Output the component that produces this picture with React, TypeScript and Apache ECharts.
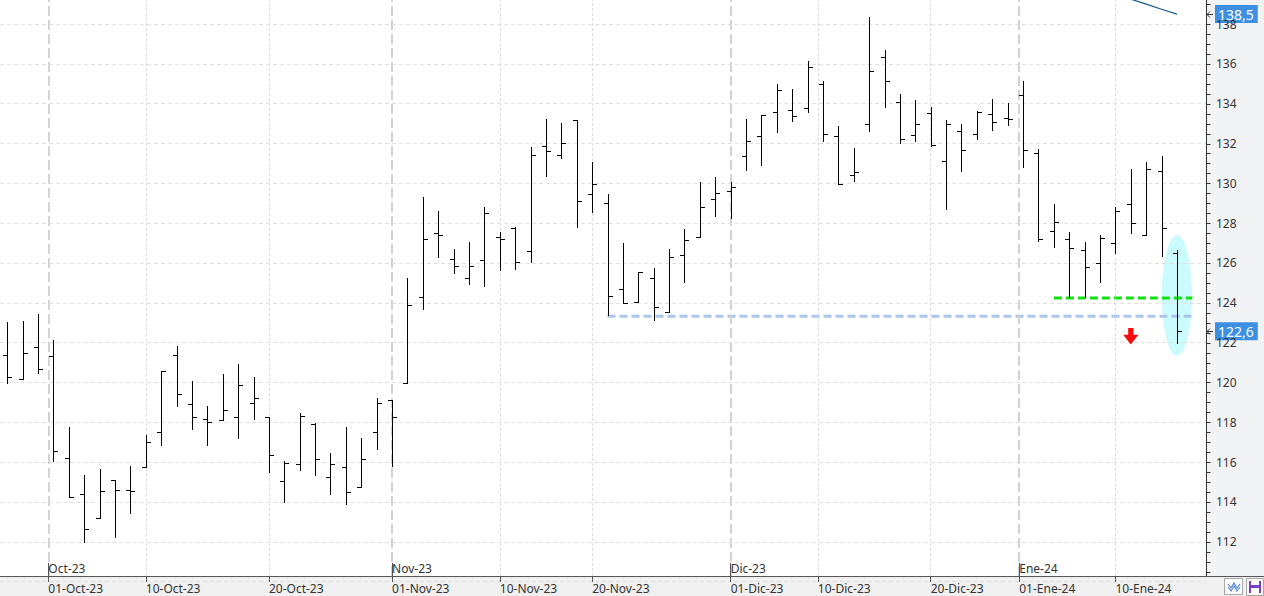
import React, { useEffect, useRef } from "react";
import * as echarts from "echarts";

// Trading-day index 0 = 27-Sep-23 ... 76 = 16-Jan-24
const opens = [
  121.36, 120.19, 121.77, 121.33, 116.19, 114.4, 113.18, 115.09, 114.59, 115.77,
  117.5, 121.36, 118.9, 118.15, 118.1, 118.25, 118.95, 118.25, 115.04, 115.89,
  117.9, 115.24, 115.74, 114.74, 117.5, 119.11, 119.96, 124.28, 127.49, 126.19,
  125.23, 126.14, 127.29, 127.74, 126.59, 131.86, 131.41, 133.16, 129.45, 129.0,
  124.71, 124.06, 125.23, 123.52, 126.39, 127.32, 129.2, 129.6, 131.37, 132.36,
  133.57, 133.67, 133.77, 134.97, 132.36, 130.4, 132.96, 136.33, 134.07, 132.41,
  133.52, 131.12, 132.61, 132.46, 133.47, 133.28, 134.42, 131.51, 127.59, 127.19,
  126.64, 125.98, 126.99, 128.95, 127.39, 130.6, 126.49,
];
const highs = [
  123.02, 123.09, 123.42, 122.13, 117.76, 115.35, 115.64, 115.09, 115.81, 117.36,
  120.58, 121.83, 120.07, 118.82, 120.44, 120.93, 120.28, 118.25, 116.04, 118.45,
  117.98, 116.44, 117.75, 117.2, 119.21, 119.11, 125.23, 129.3, 128.61, 126.69,
  127.04, 128.8, 127.54, 127.82, 131.81, 133.22, 133.01, 133.16, 131.06, 129.45,
  126.99, 125.53, 125.73, 126.69, 127.71, 130.07, 130.3, 130.05, 133.23, 133.42,
  134.99, 134.74, 136.14, 135.14, 132.86, 131.77, 138.35, 136.68, 134.47, 134.18,
  133.82, 133.16, 132.96, 133.65, 134.22, 134.02, 135.12, 131.71, 128.96, 127.54,
  127.04, 127.39, 128.8, 130.7, 131.06, 131.36, 126.64,
];
const lows = [
  119.99, 120.19, 120.49, 116.06, 114.23, 112.0, 113.18, 112.26, 113.46, 115.77,
  116.88, 118.82, 117.66, 116.88, 118.1, 117.23, 118.18, 115.49, 114.01, 115.62,
  115.37, 114.42, 113.88, 114.74, 116.67, 115.81, 119.96, 123.7, 126.32, 125.51,
  124.96, 124.86, 125.65, 125.7, 126.07, 130.38, 131.29, 127.82, 128.58, 123.4,
  123.98, 124.06, 123.14, 123.52, 125.06, 127.31, 128.37, 128.27, 130.67, 130.94,
  132.59, 133.15, 133.6, 132.14, 129.95, 130.13, 132.64, 133.85, 132.01, 132.14,
  131.87, 128.73, 130.62, 132.23, 132.68, 132.94, 130.8, 127.09, 126.82, 124.31,
  124.31, 125.06, 126.52, 127.52, 127.39, 126.37, 121.97,
];
const closes = [
  120.26, 121.47, 120.66, 116.54, 114.26, 112.63, 114.54, 114.59, 114.54, 117.0,
  120.58, 119.41, 118.25, 118.0, 118.6, 119.86, 119.21, 116.34, 115.94, 118.3,
  116.14, 115.89, 114.49, 116.14, 118.95, 118.25, 123.88, 127.19, 127.39, 125.85,
  125.85, 128.5, 127.19, 126.07, 131.41, 131.61, 132.01, 129.11, 129.95, 124.33,
  123.98, 125.53, 123.81, 126.3, 127.14, 128.8, 129.5, 129.83, 132.11, 133.42,
  134.67, 133.37, 135.83, 132.46, 129.95, 130.55, 135.63, 135.12, 132.21, 132.98,
  131.94, 132.96, 131.66, 133.57, 133.07, 133.23, 131.69, 127.19, 128.04, 126.74,
  125.78, 127.24, 128.6, 127.99, 130.7, 127.74, 122.57,
];

// indicator line (top right)
const indicatorX = [72, 73, 74, 75, 76];
const indicatorY = [139.5, 139.25, 139.0, 138.74, 138.5];

// date axis (positions in trading-day index)
const dateTickPos = [2.667, 9, 17, 25, 32, 38, 47, 52.667, 60, 65.75, 72];
const dateTickLabels = [
  "01-Oct-23", "10-Oct-23", "20-Oct-23", "01-Nov-23", "10-Nov-23", "20-Nov-23",
  "01-Dic-23", "10-Dic-23", "20-Dic-23", "01-Ene-24", "10-Ene-24",
];
const monthPos = [2.667, 25, 47, 65.75];
const monthLabels = ["Oct-23", "Nov-23", "Dic-23", "Ene-24"];
const dayGridPos = [9, 17, 32, 38, 52.667, 60, 72];

// price-axis ticks (every 0.5)
const priceTicks = [
  110.5, 111, 111.5, 112, 112.5, 113, 113.5, 114, 114.5, 115, 115.5, 116, 116.5, 117,
  117.5, 118, 118.5, 119, 119.5, 120, 120.5, 121, 121.5, 122, 122.5, 123, 123.5, 124,
  124.5, 125, 125.5, 126, 126.5, 127, 127.5, 128, 128.5, 129, 129.5, 130, 130.5, 131,
  131.5, 132, 132.5, 133, 133.5, 134, 134.5, 135, 135.5, 136, 136.5, 137, 137.5, 138,
  138.5, 139,
];

// annotations
const blueLevel = 123.32;
const blueFrom = 39;
const greenLevel = 124.24;
const greenFrom = 68;
const levelTo = 77;
const ellipseAt = [76, 124.37, 6.04];
const arrowAt = [73, 122.73];

const X_MIN = -0.4743;
const X_MAX = 77.887;
const Y_MIN = 110;
const Y_MAX = 139.206;
const Y_AXIS_BOTTOM = 110.28;
const FONT = "Noto Sans";
const AXIS_COLOR = "#333333";

function lookup(pos: number[], labels: string[], v: number) {
  const i = pos.findIndex((p) => Math.abs(p - v) < 0.01);
  return i >= 0 ? labels[i] : "";
}

const boxLabel = {
  show: true,
  position: "end",
  distance: 9,
  formatter: (p: any) => Number(p.value).toFixed(1).replace(".", ","),
  color: "#ffffff",
  backgroundColor: "#3d8fe3",
  fontSize: 14,
  fontFamily: FONT,
  padding: [2, 4, 2, 3],
};

const hiddenLine = { color: "rgba(0,0,0,0)", width: 1 };

const iconGraphics: any[] = [
  { type: "rect", id: "band", z: 50, silent: true, shape: { x: 1205, y: 577, width: 59, height: 20 }, style: { fill: "#f0f0f0" } },
  { type: "line", id: "bandline", z: 51, silent: true, shape: { x1: 1205, y1: 576.5, x2: 1264, y2: 576.5 }, style: { stroke: "#555", lineWidth: 1 } },
  { type: "rect", id: "btn1", z: 52, silent: true, shape: { x: 1224.5, y: 578.5, width: 18, height: 16 }, style: { fill: "#fafafa", stroke: "#a8a8a8", lineWidth: 1 } },
  { type: "polyline", id: "zig1", z: 53, silent: true, shape: { points: [[1228, 584], [1231, 588], [1234, 583], [1237, 588], [1240, 584]] }, style: { stroke: "#5b8bd6", lineWidth: 1.2, fill: null } },
  { type: "polyline", id: "zig2", z: 53, silent: true, shape: { points: [[1228, 587], [1231, 591], [1234, 586], [1237, 591], [1240, 587]] }, style: { stroke: "#5b8bd6", lineWidth: 1.2, fill: null } },
  { type: "rect", id: "btn2", z: 52, silent: true, shape: { x: 1246.5, y: 578.5, width: 17, height: 17 }, style: { fill: "#fafafa", stroke: "#a8a8a8", lineWidth: 1 } },
  { type: "rect", id: "disk", z: 53, silent: true, shape: { x: 1249, y: 581, width: 12, height: 12 }, style: { fill: "#7b3fc4" } },
  { type: "rect", id: "disk1", z: 54, silent: true, shape: { x: 1251, y: 581, width: 8, height: 4 }, style: { fill: "#ffffff" } },
  { type: "rect", id: "disk2", z: 54, silent: true, shape: { x: 1251, y: 588, width: 8, height: 5 }, style: { fill: "#ffffff" } },
];

export default function App() {
  const ref = useRef<HTMLDivElement>(null);
  useEffect(() => {
    if (!ref.current) return;
    const chart = echarts.init(ref.current, undefined, { renderer: "svg" });
    const ohlc = opens.map((o, i) => [i, o, highs[i], lows[i], closes[i]]);
    const crisp = (v: number) => Math.round(v) + 0.5;
    const lastValues = [indicatorY[indicatorY.length - 1], closes[closes.length - 1]];

    const option: any = {
      animation: false,
      backgroundColor: "#f2f3f5",
      textStyle: { fontFamily: FONT },
      grid: [
        { left: 0, right: 58, top: 0, bottom: 14.37, containLabel: false, show: true, backgroundColor: "#ffffff", borderWidth: 0 },
        { left: 0, right: 58, top: 576.5, bottom: 0, containLabel: false, show: true, backgroundColor: "#f0f0f0", borderWidth: 0 },
      ],
      xAxis: [
        {
          type: "value",
          z: 10,
          min: X_MIN,
          max: X_MAX,
          position: "bottom",
          offset: -5.63,
          axisLine: { show: true, onZero: false, lineStyle: { color: "#555", width: 1 } },
          axisTick: { show: true, customValues: dateTickPos, length: 6, lineStyle: { color: "#555" } },
          axisLabel: {
            show: true,
            customValues: dateTickPos,
            formatter: (v: number) => lookup(dateTickPos, dateTickLabels, v),
            align: "left",
            margin: 6,
            color: "#333",
            fontSize: 12,
            fontFamily: FONT,
          },
          splitLine: { show: false },
        },
        {
          type: "value",
          z: 10,
          min: X_MIN,
          max: X_MAX,
          position: "bottom",
          offset: -5.63,
          axisLine: { show: false, onZero: false },
          axisTick: { show: true, inside: true, customValues: monthPos, length: 13, lineStyle: { color: "#555" } },
          axisLabel: {
            show: true,
            inside: true,
            customValues: monthPos,
            formatter: (v: number) => lookup(monthPos, monthLabels, v),
            align: "left",
            margin: 2,
            color: "#333",
            fontSize: 12,
            fontFamily: FONT,
          },
          splitLine: { show: false },
        },
        { type: "value", gridIndex: 1, show: false, min: 0, max: 1 },
      ],
      yAxis: [
        {
          type: "value",
          z: 10,
          position: "right",
          min: Y_MIN,
          max: Y_MAX,
          interval: 2,
          axisLine: { show: true, onZero: false, lineStyle: { color: AXIS_COLOR, width: 1 } },
          axisTick: { show: false },
          axisLabel: {
            margin: 10,
            color: "#333",
            fontSize: 12,
            fontFamily: FONT,
            showMaxLabel: false,
            formatter: (v: number) => (Math.abs(v / 2 - Math.round(v / 2)) > 0.001 || v <= Y_MIN ? "" : String(v)),
          },
          splitLine: { show: true, showMaxLine: false, lineStyle: { color: "#e0e0e0", type: [4, 3], width: 1 } },
        },
        { type: "value", gridIndex: 1, show: false, min: 0, max: 1 },
      ],
      series: [
        {
          type: "line",
          name: "grid-days",
          data: [],
          silent: true,
          markLine: {
            silent: true,
            symbol: ["none", "none"],
            label: { show: false },
            lineStyle: { color: "#dcdcdc", type: [3, 2], width: 1 },
            data: dayGridPos.map((p) => [{ coord: [p, Y_AXIS_BOTTOM] }, { coord: [p, Y_MAX] }]),
          },
        },
        {
          type: "line",
          name: "grid-months",
          data: [],
          silent: true,
          markLine: {
            silent: true,
            symbol: ["none", "none"],
            label: { show: false },
            lineStyle: { color: "#d2d2d2", type: [10, 4], width: 2 },
            data: monthPos.map((p) => [{ coord: [p, Y_AXIS_BOTTOM] }, { coord: [p, Y_MAX] }]),
          },
        },
        {
          type: "custom",
          name: "ellipse",
          z: 1,
          silent: true,
          data: [ellipseAt],
          renderItem: (params: any, api: any) => {
            const c = api.coord([api.value(0), api.value(1)]);
            const w = api.size([2, 0])[0];
            const h = api.size([0, api.value(2)])[1];
            return {
              type: "ellipse",
              shape: { cx: c[0], cy: c[1], rx: w / 2 - 0.3, ry: h / 2 },
              style: { fill: "#cbfbfc" },
            };
          },
        },
        {
          type: "line",
          name: "blue-level",
          z: 3,
          silent: true,
          symbol: "none",
          data: [[blueFrom, blueLevel], [levelTo, blueLevel]],
          lineStyle: { color: "#a9c7ec", width: 3, type: [8, 4] },
        },
        {
          type: "line",
          name: "green-level",
          z: 3,
          silent: true,
          symbol: "none",
          data: [[greenFrom, greenLevel], [levelTo, greenLevel]],
          lineStyle: { color: "#12e012", width: 3, type: [8, 4] },
        },
        {
          type: "line",
          name: "indicator",
          z: 12,
          silent: true,
          symbol: "none",
          clip: true,
          data: indicatorX.map((x, i) => [x, indicatorY[i]]),
          lineStyle: { color: "#165a8c", width: 1.2 },
          markLine: {
            silent: true,
            symbol: ["none", "none"],
            lineStyle: hiddenLine,
            label: boxLabel,
            data: [{ yAxis: indicatorY[indicatorY.length - 1] }],
          },
        },
        {
          type: "custom",
          name: "ohlc",
          z: 12,
          silent: true,
          dimensions: ["x", "open", "high", "low", "close"],
          encode: { x: 0, y: [1, 2, 3, 4] },
          data: ohlc,
          renderItem: (params: any, api: any) => {
            const x = api.value(0);
            const pO = api.coord([x, api.value(1)]);
            const pH = api.coord([x, api.value(2)]);
            const pL = api.coord([x, api.value(3)]);
            const pC = api.coord([x, api.value(4)]);
            const cx = crisp(pH[0]);
            const t = 4.5;
            const st = { stroke: "#000", lineWidth: 1 };
            return {
              type: "group",
              children: [
                { type: "line", shape: { x1: cx, y1: Math.round(pH[1]), x2: cx, y2: Math.round(pL[1]) + 1 }, style: st },
                { type: "line", shape: { x1: cx - t, y1: crisp(pO[1]), x2: cx, y2: crisp(pO[1]) }, style: st },
                { type: "line", shape: { x1: cx, y1: crisp(pC[1]), x2: cx + t, y2: crisp(pC[1]) }, style: st },
              ],
            };
          },
          markLine: {
            silent: true,
            symbol: ["none", "none"],
            lineStyle: hiddenLine,
            label: boxLabel,
            data: [{ yAxis: closes[closes.length - 1] }],
          },
        },
        {
          type: "custom",
          name: "arrow",
          z: 12,
          silent: true,
          data: [arrowAt],
          renderItem: (params: any, api: any) => {
            const c = api.coord([api.value(0), api.value(1)]);
            const x = c[0];
            const y = c[1];
            return {
              type: "polygon",
              shape: {
                points: [
                  [x - 2.6, y], [x + 2.6, y], [x + 2.6, y + 6.6], [x + 7.6, y + 6.6],
                  [x, y + 16.3], [x - 7.6, y + 6.6], [x - 2.6, y + 6.6],
                ],
              },
              style: { fill: "#ff0a0a" },
            };
          },
        },
      ],
    };
    chart.setOption(option);

    // price-axis line, ticks and last-value pointers, placed through the chart's own scales
    const toPx = (v: number) => chart.convertToPixel({ gridIndex: 0 }, [X_MAX, v]) as number[];
    const top = toPx(Y_MAX);
    const bottom = toPx(Y_AXIS_BOTTOM);
    const ax = Math.round(top[0]) + 0.5;
    const axisGraphics: any[] = [
      { type: "line", id: "yaxis-line", z: 100, silent: true, shape: { x1: ax, y1: top[1], x2: ax, y2: bottom[1] }, style: { stroke: AXIS_COLOR, lineWidth: 1 } },
    ];
    priceTicks.forEach((v, i) => {
      const p = toPx(v);
      const y = crisp(p[1]);
      axisGraphics.push({ type: "line", id: "ytick-" + i, z: 100, silent: true, shape: { x1: ax, y1: y, x2: ax + 4, y2: y }, style: { stroke: AXIS_COLOR, lineWidth: 1 } });
    });
    lastValues.forEach((v, i) => {
      const p = toPx(v);
      const y = crisp(p[1]);
      const x = ax + 0.5;
      axisGraphics.push({ type: "line", id: "ptr-line-" + i, z: 100, silent: true, shape: { x1: x, y1: y, x2: x + 6, y2: y }, style: { stroke: "#333", lineWidth: 1 } });
      axisGraphics.push({ type: "polyline", id: "ptr-head-" + i, z: 100, silent: true, shape: { points: [[x + 3, y - 3], [x, y], [x + 3, y + 3]] }, style: { stroke: "#333", lineWidth: 1, fill: null } });
    });
    chart.setOption({ graphic: [...iconGraphics, ...axisGraphics] });
    return () => chart.dispose();
  }, []);
  return (
    <div
      ref={ref}
      style={{ position: "fixed", left: 0, top: 0, width: 1264, height: 596 }}
    />
  );
}
